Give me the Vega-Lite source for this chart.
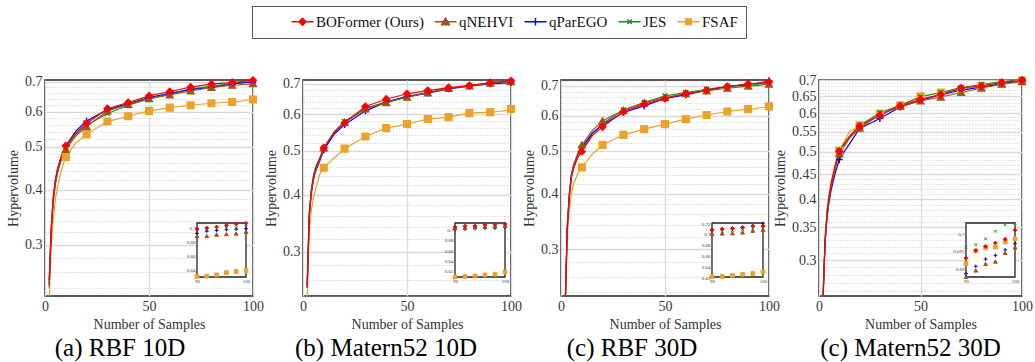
{
  "$schema": "https://vega.github.io/schema/vega-lite/v6.json",
  "background": "white",
  "padding": {"left": 5, "top": 5, "right": 5, "bottom": 5},
  "bounds": "flush",
  "spacing": 50,
  "config": {
    "font": "Liberation Serif",
    "view": {"stroke": "#222222", "strokeWidth": 1.5},
    "axis": {
      "labelFont": "Liberation Serif", "titleFont": "Liberation Serif",
      "labelFontSize": 14, "titleFontSize": 14, "titleFontWeight": "normal",
      "labelColor": "#3a3a3a", "titleColor": "#333333",
      "domain": false, "ticks": false
    },
    "title": {"font": "Liberation Serif", "fontSize": 25, "fontWeight": "normal", "color": "#000000", "orient": "bottom", "offset": 5}
  },
  "datasets": {
    "rbf10": [
      {"method":"FSAF","x":2,"hv":0.222},{"method":"FSAF","x":3,"hv":0.295},{"method":"FSAF","x":4,"hv":0.345},{"method":"FSAF","x":5,"hv":0.38},{"method":"FSAF","x":6,"hv":0.405},{"method":"FSAF","x":8,"hv":0.445},{"method":"FSAF","x":10,"hv":0.4736},{"method":"FSAF","x":15,"hv":0.511},{"method":"FSAF","x":20,"hv":0.533},{"method":"FSAF","x":30,"hv":0.5696},{"method":"FSAF","x":40,"hv":0.5856},{"method":"FSAF","x":50,"hv":0.602},{"method":"FSAF","x":60,"hv":0.6125},{"method":"FSAF","x":70,"hv":0.62},{"method":"FSAF","x":80,"hv":0.6265},{"method":"FSAF","x":90,"hv":0.6307},{"method":"FSAF","x":92,"hv":0.6312},{"method":"FSAF","x":94,"hv":0.633},{"method":"FSAF","x":96,"hv":0.6363},{"method":"FSAF","x":98,"hv":0.6377},{"method":"FSAF","x":100,"hv":0.639},
      {"method":"JES","x":2,"hv":0.243},{"method":"JES","x":3,"hv":0.322},{"method":"JES","x":4,"hv":0.378},{"method":"JES","x":5,"hv":0.412},{"method":"JES","x":6,"hv":0.437},{"method":"JES","x":8,"hv":0.472},{"method":"JES","x":10,"hv":0.4975},{"method":"JES","x":15,"hv":0.535},{"method":"JES","x":20,"hv":0.5585},{"method":"JES","x":30,"hv":0.594},{"method":"JES","x":40,"hv":0.62},{"method":"JES","x":50,"hv":0.6407},{"method":"JES","x":60,"hv":0.658},{"method":"JES","x":70,"hv":0.674},{"method":"JES","x":80,"hv":0.685},{"method":"JES","x":90,"hv":0.694},{"method":"JES","x":92,"hv":0.696},{"method":"JES","x":94,"hv":0.698},{"method":"JES","x":96,"hv":0.699},{"method":"JES","x":98,"hv":0.7},{"method":"JES","x":100,"hv":0.701},
      {"method":"qParEGO","x":2,"hv":0.245},{"method":"qParEGO","x":3,"hv":0.328},{"method":"qParEGO","x":4,"hv":0.385},{"method":"qParEGO","x":5,"hv":0.42},{"method":"qParEGO","x":6,"hv":0.445},{"method":"qParEGO","x":8,"hv":0.478},{"method":"qParEGO","x":10,"hv":0.502},{"method":"qParEGO","x":15,"hv":0.543},{"method":"qParEGO","x":20,"hv":0.571},{"method":"qParEGO","x":30,"hv":0.606},{"method":"qParEGO","x":40,"hv":0.6255},{"method":"qParEGO","x":50,"hv":0.6454},{"method":"qParEGO","x":60,"hv":0.66},{"method":"qParEGO","x":70,"hv":0.673},{"method":"qParEGO","x":80,"hv":0.68},{"method":"qParEGO","x":90,"hv":0.6916},{"method":"qParEGO","x":92,"hv":0.695},{"method":"qParEGO","x":94,"hv":0.6958},{"method":"qParEGO","x":96,"hv":0.697},{"method":"qParEGO","x":98,"hv":0.6977},{"method":"qParEGO","x":100,"hv":0.6986},
      {"method":"qNEHVI","x":2,"hv":0.24},{"method":"qNEHVI","x":3,"hv":0.32},{"method":"qNEHVI","x":4,"hv":0.378},{"method":"qNEHVI","x":5,"hv":0.412},{"method":"qNEHVI","x":6,"hv":0.437},{"method":"qNEHVI","x":8,"hv":0.47},{"method":"qNEHVI","x":10,"hv":0.493},{"method":"qNEHVI","x":15,"hv":0.53},{"method":"qNEHVI","x":20,"hv":0.555},{"method":"qNEHVI","x":30,"hv":0.602},{"method":"qNEHVI","x":40,"hv":0.623},{"method":"qNEHVI","x":50,"hv":0.642},{"method":"qNEHVI","x":60,"hv":0.6545},{"method":"qNEHVI","x":70,"hv":0.668},{"method":"qNEHVI","x":80,"hv":0.68},{"method":"qNEHVI","x":90,"hv":0.688},{"method":"qNEHVI","x":92,"hv":0.688},{"method":"qNEHVI","x":94,"hv":0.69},{"method":"qNEHVI","x":96,"hv":0.6907},{"method":"qNEHVI","x":98,"hv":0.6916},{"method":"qNEHVI","x":100,"hv":0.694},
      {"method":"BOFormer (Ours)","x":2,"hv":0.25},{"method":"BOFormer (Ours)","x":3,"hv":0.33},{"method":"BOFormer (Ours)","x":4,"hv":0.385},{"method":"BOFormer (Ours)","x":5,"hv":0.42},{"method":"BOFormer (Ours)","x":6,"hv":0.445},{"method":"BOFormer (Ours)","x":8,"hv":0.478},{"method":"BOFormer (Ours)","x":10,"hv":0.502},{"method":"BOFormer (Ours)","x":15,"hv":0.538},{"method":"BOFormer (Ours)","x":20,"hv":0.564},{"method":"BOFormer (Ours)","x":30,"hv":0.609},{"method":"BOFormer (Ours)","x":40,"hv":0.629},{"method":"BOFormer (Ours)","x":50,"hv":0.651},{"method":"BOFormer (Ours)","x":60,"hv":0.666},{"method":"BOFormer (Ours)","x":70,"hv":0.681},{"method":"BOFormer (Ours)","x":80,"hv":0.692},{"method":"BOFormer (Ours)","x":90,"hv":0.698},{"method":"BOFormer (Ours)","x":92,"hv":0.6995},{"method":"BOFormer (Ours)","x":94,"hv":0.701},{"method":"BOFormer (Ours)","x":96,"hv":0.703},{"method":"BOFormer (Ours)","x":98,"hv":0.705},{"method":"BOFormer (Ours)","x":100,"hv":0.706}
    ],
    "mat10": [
      {"method":"FSAF","x":2,"hv":0.235},{"method":"FSAF","x":3,"hv":0.33},{"method":"FSAF","x":4,"hv":0.37},{"method":"FSAF","x":5,"hv":0.394},{"method":"FSAF","x":6,"hv":0.41},{"method":"FSAF","x":8,"hv":0.443},{"method":"FSAF","x":10,"hv":0.4585},{"method":"FSAF","x":15,"hv":0.4818},{"method":"FSAF","x":20,"hv":0.505},{"method":"FSAF","x":30,"hv":0.537},{"method":"FSAF","x":40,"hv":0.56},{"method":"FSAF","x":50,"hv":0.5716},{"method":"FSAF","x":60,"hv":0.5863},{"method":"FSAF","x":70,"hv":0.592},{"method":"FSAF","x":80,"hv":0.604},{"method":"FSAF","x":90,"hv":0.607},{"method":"FSAF","x":92,"hv":0.608},{"method":"FSAF","x":94,"hv":0.609},{"method":"FSAF","x":96,"hv":0.611},{"method":"FSAF","x":98,"hv":0.6125},{"method":"FSAF","x":100,"hv":0.6167},
      {"method":"JES","x":2,"hv":0.255},{"method":"JES","x":3,"hv":0.366},{"method":"JES","x":4,"hv":0.412},{"method":"JES","x":5,"hv":0.44},{"method":"JES","x":6,"hv":0.459},{"method":"JES","x":8,"hv":0.482},{"method":"JES","x":10,"hv":0.505},{"method":"JES","x":15,"hv":0.55},{"method":"JES","x":20,"hv":0.579},{"method":"JES","x":30,"hv":0.6196},{"method":"JES","x":40,"hv":0.6386},{"method":"JES","x":50,"hv":0.6567},{"method":"JES","x":60,"hv":0.671},{"method":"JES","x":70,"hv":0.685},{"method":"JES","x":80,"hv":0.694},{"method":"JES","x":90,"hv":0.704},{"method":"JES","x":92,"hv":0.705},{"method":"JES","x":94,"hv":0.706},{"method":"JES","x":96,"hv":0.707},{"method":"JES","x":98,"hv":0.708},{"method":"JES","x":100,"hv":0.709},
      {"method":"qParEGO","x":2,"hv":0.25},{"method":"qParEGO","x":3,"hv":0.358},{"method":"qParEGO","x":4,"hv":0.402},{"method":"qParEGO","x":5,"hv":0.431},{"method":"qParEGO","x":6,"hv":0.45},{"method":"qParEGO","x":8,"hv":0.474},{"method":"qParEGO","x":10,"hv":0.502},{"method":"qParEGO","x":15,"hv":0.543},{"method":"qParEGO","x":20,"hv":0.57},{"method":"qParEGO","x":30,"hv":0.611},{"method":"qParEGO","x":40,"hv":0.6386},{"method":"qParEGO","x":50,"hv":0.6567},{"method":"qParEGO","x":60,"hv":0.668},{"method":"qParEGO","x":70,"hv":0.6826},{"method":"qParEGO","x":80,"hv":0.692},{"method":"qParEGO","x":90,"hv":0.7},{"method":"qParEGO","x":92,"hv":0.701},{"method":"qParEGO","x":94,"hv":0.702},{"method":"qParEGO","x":96,"hv":0.7026},{"method":"qParEGO","x":98,"hv":0.703},{"method":"qParEGO","x":100,"hv":0.7046},
      {"method":"qNEHVI","x":2,"hv":0.25},{"method":"qNEHVI","x":3,"hv":0.36},{"method":"qNEHVI","x":4,"hv":0.405},{"method":"qNEHVI","x":5,"hv":0.434},{"method":"qNEHVI","x":6,"hv":0.453},{"method":"qNEHVI","x":8,"hv":0.477},{"method":"qNEHVI","x":10,"hv":0.507},{"method":"qNEHVI","x":15,"hv":0.548},{"method":"qNEHVI","x":20,"hv":0.577},{"method":"qNEHVI","x":30,"hv":0.617},{"method":"qNEHVI","x":40,"hv":0.637},{"method":"qNEHVI","x":50,"hv":0.6545},{"method":"qNEHVI","x":60,"hv":0.669},{"method":"qNEHVI","x":70,"hv":0.684},{"method":"qNEHVI","x":80,"hv":0.693},{"method":"qNEHVI","x":90,"hv":0.703},{"method":"qNEHVI","x":92,"hv":0.704},{"method":"qNEHVI","x":94,"hv":0.705},{"method":"qNEHVI","x":96,"hv":0.706},{"method":"qNEHVI","x":98,"hv":0.707},{"method":"qNEHVI","x":100,"hv":0.708},
      {"method":"BOFormer (Ours)","x":2,"hv":0.2527},{"method":"BOFormer (Ours)","x":3,"hv":0.362},{"method":"BOFormer (Ours)","x":4,"hv":0.407},{"method":"BOFormer (Ours)","x":5,"hv":0.436},{"method":"BOFormer (Ours)","x":6,"hv":0.455},{"method":"BOFormer (Ours)","x":8,"hv":0.478},{"method":"BOFormer (Ours)","x":10,"hv":0.507},{"method":"BOFormer (Ours)","x":15,"hv":0.548},{"method":"BOFormer (Ours)","x":20,"hv":0.5745},{"method":"BOFormer (Ours)","x":30,"hv":0.6245},{"method":"BOFormer (Ours)","x":40,"hv":0.648},{"method":"BOFormer (Ours)","x":50,"hv":0.666},{"method":"BOFormer (Ours)","x":60,"hv":0.677},{"method":"BOFormer (Ours)","x":70,"hv":0.687},{"method":"BOFormer (Ours)","x":80,"hv":0.694},{"method":"BOFormer (Ours)","x":90,"hv":0.705},{"method":"BOFormer (Ours)","x":92,"hv":0.707},{"method":"BOFormer (Ours)","x":94,"hv":0.707},{"method":"BOFormer (Ours)","x":96,"hv":0.709},{"method":"BOFormer (Ours)","x":98,"hv":0.71},{"method":"BOFormer (Ours)","x":100,"hv":0.711}
    ],
    "rbf30": [
      {"method":"FSAF","x":2,"hv":0.21},{"method":"FSAF","x":3,"hv":0.32},{"method":"FSAF","x":4,"hv":0.37},{"method":"FSAF","x":5,"hv":0.4},{"method":"FSAF","x":6,"hv":0.42},{"method":"FSAF","x":8,"hv":0.443},{"method":"FSAF","x":10,"hv":0.4586},{"method":"FSAF","x":15,"hv":0.491},{"method":"FSAF","x":20,"hv":0.515},{"method":"FSAF","x":30,"hv":0.543},{"method":"FSAF","x":40,"hv":0.5593},{"method":"FSAF","x":50,"hv":0.574},{"method":"FSAF","x":60,"hv":0.589},{"method":"FSAF","x":70,"hv":0.602},{"method":"FSAF","x":80,"hv":0.613},{"method":"FSAF","x":90,"hv":0.6206},{"method":"FSAF","x":92,"hv":0.621},{"method":"FSAF","x":94,"hv":0.623},{"method":"FSAF","x":96,"hv":0.625},{"method":"FSAF","x":98,"hv":0.6265},{"method":"FSAF","x":100,"hv":0.6295},
      {"method":"JES","x":2,"hv":0.22},{"method":"JES","x":3,"hv":0.332},{"method":"JES","x":4,"hv":0.394},{"method":"JES","x":5,"hv":0.436},{"method":"JES","x":6,"hv":0.456},{"method":"JES","x":8,"hv":0.482},{"method":"JES","x":10,"hv":0.5017},{"method":"JES","x":15,"hv":0.545},{"method":"JES","x":20,"hv":0.576},{"method":"JES","x":30,"hv":0.618},{"method":"JES","x":40,"hv":0.642},{"method":"JES","x":50,"hv":0.6647},{"method":"JES","x":60,"hv":0.6765},{"method":"JES","x":70,"hv":0.688},{"method":"JES","x":80,"hv":0.6986},{"method":"JES","x":90,"hv":0.703},{"method":"JES","x":92,"hv":0.704},{"method":"JES","x":94,"hv":0.706},{"method":"JES","x":96,"hv":0.7075},{"method":"JES","x":98,"hv":0.709},{"method":"JES","x":100,"hv":0.71},
      {"method":"qParEGO","x":2,"hv":0.225},{"method":"qParEGO","x":3,"hv":0.34},{"method":"qParEGO","x":4,"hv":0.4},{"method":"qParEGO","x":5,"hv":0.442},{"method":"qParEGO","x":6,"hv":0.463},{"method":"qParEGO","x":8,"hv":0.49},{"method":"qParEGO","x":10,"hv":0.5088},{"method":"qParEGO","x":15,"hv":0.548},{"method":"qParEGO","x":20,"hv":0.572},{"method":"qParEGO","x":30,"hv":0.61},{"method":"qParEGO","x":40,"hv":0.631},{"method":"qParEGO","x":50,"hv":0.6558},{"method":"qParEGO","x":60,"hv":0.668},{"method":"qParEGO","x":70,"hv":0.6846},{"method":"qParEGO","x":80,"hv":0.698},{"method":"qParEGO","x":90,"hv":0.706},{"method":"qParEGO","x":92,"hv":0.709},{"method":"qParEGO","x":94,"hv":0.71},{"method":"qParEGO","x":96,"hv":0.711},{"method":"qParEGO","x":98,"hv":0.714},{"method":"qParEGO","x":100,"hv":0.7194},
      {"method":"qNEHVI","x":2,"hv":0.222},{"method":"qNEHVI","x":3,"hv":0.335},{"method":"qNEHVI","x":4,"hv":0.398},{"method":"qNEHVI","x":5,"hv":0.44},{"method":"qNEHVI","x":6,"hv":0.462},{"method":"qNEHVI","x":8,"hv":0.492},{"method":"qNEHVI","x":10,"hv":0.515},{"method":"qNEHVI","x":15,"hv":0.555},{"method":"qNEHVI","x":20,"hv":0.584},{"method":"qNEHVI","x":30,"hv":0.617},{"method":"qNEHVI","x":40,"hv":0.642},{"method":"qNEHVI","x":50,"hv":0.659},{"method":"qNEHVI","x":60,"hv":0.673},{"method":"qNEHVI","x":70,"hv":0.682},{"method":"qNEHVI","x":80,"hv":0.6917},{"method":"qNEHVI","x":90,"hv":0.6995},{"method":"qNEHVI","x":92,"hv":0.7006},{"method":"qNEHVI","x":94,"hv":0.701},{"method":"qNEHVI","x":96,"hv":0.7025},{"method":"qNEHVI","x":98,"hv":0.7055},{"method":"qNEHVI","x":100,"hv":0.707},
      {"method":"BOFormer (Ours)","x":2,"hv":0.22},{"method":"BOFormer (Ours)","x":3,"hv":0.33},{"method":"BOFormer (Ours)","x":4,"hv":0.393},{"method":"BOFormer (Ours)","x":5,"hv":0.435},{"method":"BOFormer (Ours)","x":6,"hv":0.455},{"method":"BOFormer (Ours)","x":8,"hv":0.483},{"method":"BOFormer (Ours)","x":10,"hv":0.498},{"method":"BOFormer (Ours)","x":15,"hv":0.54},{"method":"BOFormer (Ours)","x":20,"hv":0.566},{"method":"BOFormer (Ours)","x":30,"hv":0.612},{"method":"BOFormer (Ours)","x":40,"hv":0.6367},{"method":"BOFormer (Ours)","x":50,"hv":0.6558},{"method":"BOFormer (Ours)","x":60,"hv":0.673},{"method":"BOFormer (Ours)","x":70,"hv":0.6846},{"method":"BOFormer (Ours)","x":80,"hv":0.698},{"method":"BOFormer (Ours)","x":90,"hv":0.7075},{"method":"BOFormer (Ours)","x":92,"hv":0.709},{"method":"BOFormer (Ours)","x":94,"hv":0.71},{"method":"BOFormer (Ours)","x":96,"hv":0.712},{"method":"BOFormer (Ours)","x":98,"hv":0.7145},{"method":"BOFormer (Ours)","x":100,"hv":0.7145}
    ],
    "mat30": [
      {"method":"FSAF","x":2,"hv":0.252},{"method":"FSAF","x":3,"hv":0.334},{"method":"FSAF","x":4,"hv":0.38},{"method":"FSAF","x":5,"hv":0.41},{"method":"FSAF","x":6,"hv":0.435},{"method":"FSAF","x":8,"hv":0.473},{"method":"FSAF","x":10,"hv":0.503},{"method":"FSAF","x":15,"hv":0.549},{"method":"FSAF","x":20,"hv":0.566},{"method":"FSAF","x":30,"hv":0.598},{"method":"FSAF","x":40,"hv":0.622},{"method":"FSAF","x":50,"hv":0.649},{"method":"FSAF","x":60,"hv":0.661},{"method":"FSAF","x":70,"hv":0.671},{"method":"FSAF","x":80,"hv":0.6815},{"method":"FSAF","x":90,"hv":0.6913},{"method":"FSAF","x":92,"hv":0.695},{"method":"FSAF","x":94,"hv":0.6959},{"method":"FSAF","x":96,"hv":0.6961},{"method":"FSAF","x":98,"hv":0.6976},{"method":"FSAF","x":100,"hv":0.6985},
      {"method":"JES","x":2,"hv":0.252},{"method":"JES","x":3,"hv":0.33},{"method":"JES","x":4,"hv":0.375},{"method":"JES","x":5,"hv":0.405},{"method":"JES","x":6,"hv":0.428},{"method":"JES","x":8,"hv":0.466},{"method":"JES","x":10,"hv":0.503},{"method":"JES","x":15,"hv":0.538},{"method":"JES","x":20,"hv":0.566},{"method":"JES","x":30,"hv":0.601},{"method":"JES","x":40,"hv":0.622},{"method":"JES","x":50,"hv":0.647},{"method":"JES","x":60,"hv":0.661},{"method":"JES","x":70,"hv":0.676},{"method":"JES","x":80,"hv":0.686},{"method":"JES","x":90,"hv":0.6961},{"method":"JES","x":92,"hv":0.6968},{"method":"JES","x":94,"hv":0.6985},{"method":"JES","x":96,"hv":0.7007},{"method":"JES","x":98,"hv":0.7026},{"method":"JES","x":100,"hv":0.7034},
      {"method":"qParEGO","x":2,"hv":0.25},{"method":"qParEGO","x":3,"hv":0.325},{"method":"qParEGO","x":4,"hv":0.368},{"method":"qParEGO","x":5,"hv":0.396},{"method":"qParEGO","x":6,"hv":0.418},{"method":"qParEGO","x":8,"hv":0.452},{"method":"qParEGO","x":10,"hv":0.482},{"method":"qParEGO","x":15,"hv":0.519},{"method":"qParEGO","x":20,"hv":0.558},{"method":"qParEGO","x":30,"hv":0.5846},{"method":"qParEGO","x":40,"hv":0.6174},{"method":"qParEGO","x":50,"hv":0.637},{"method":"qParEGO","x":60,"hv":0.6545},{"method":"qParEGO","x":70,"hv":0.668},{"method":"qParEGO","x":80,"hv":0.678},{"method":"qParEGO","x":90,"hv":0.6884},{"method":"qParEGO","x":92,"hv":0.6905},{"method":"qParEGO","x":94,"hv":0.6926},{"method":"qParEGO","x":96,"hv":0.6937},{"method":"qParEGO","x":98,"hv":0.6953},{"method":"qParEGO","x":100,"hv":0.6971},
      {"method":"qNEHVI","x":2,"hv":0.25},{"method":"qNEHVI","x":3,"hv":0.328},{"method":"qNEHVI","x":4,"hv":0.372},{"method":"qNEHVI","x":5,"hv":0.402},{"method":"qNEHVI","x":6,"hv":0.425},{"method":"qNEHVI","x":8,"hv":0.462},{"method":"qNEHVI","x":10,"hv":0.4958},{"method":"qNEHVI","x":15,"hv":0.533},{"method":"qNEHVI","x":20,"hv":0.559},{"method":"qNEHVI","x":30,"hv":0.5957},{"method":"qNEHVI","x":40,"hv":0.62},{"method":"qNEHVI","x":50,"hv":0.635},{"method":"qNEHVI","x":60,"hv":0.647},{"method":"qNEHVI","x":70,"hv":0.661},{"method":"qNEHVI","x":80,"hv":0.675},{"method":"qNEHVI","x":90,"hv":0.6871},{"method":"qNEHVI","x":92,"hv":0.6893},{"method":"qNEHVI","x":94,"hv":0.6912},{"method":"qNEHVI","x":96,"hv":0.6919},{"method":"qNEHVI","x":98,"hv":0.6944},{"method":"qNEHVI","x":100,"hv":0.696},
      {"method":"BOFormer (Ours)","x":2,"hv":0.253},{"method":"BOFormer (Ours)","x":3,"hv":0.332},{"method":"BOFormer (Ours)","x":4,"hv":0.377},{"method":"BOFormer (Ours)","x":5,"hv":0.407},{"method":"BOFormer (Ours)","x":6,"hv":0.4305},{"method":"BOFormer (Ours)","x":8,"hv":0.469},{"method":"BOFormer (Ours)","x":10,"hv":0.501},{"method":"BOFormer (Ours)","x":15,"hv":0.536},{"method":"BOFormer (Ours)","x":20,"hv":0.5637},{"method":"BOFormer (Ours)","x":30,"hv":0.5936},{"method":"BOFormer (Ours)","x":40,"hv":0.62},{"method":"BOFormer (Ours)","x":50,"hv":0.64},{"method":"BOFormer (Ours)","x":60,"hv":0.6545},{"method":"BOFormer (Ours)","x":70,"hv":0.675},{"method":"BOFormer (Ours)","x":80,"hv":0.6815},{"method":"BOFormer (Ours)","x":90,"hv":0.6929},{"method":"BOFormer (Ours)","x":92,"hv":0.6951},{"method":"BOFormer (Ours)","x":94,"hv":0.6963},{"method":"BOFormer (Ours)","x":96,"hv":0.6973},{"method":"BOFormer (Ours)","x":98,"hv":0.6984},{"method":"BOFormer (Ours)","x":100,"hv":0.701}
    ]
  },
  "hconcat": [
    {
      "width": 208, "height": 216,
      "title": {"text": "(a) RBF 10D", "dx": -29},
      "data": {"name": "rbf10"},
      "layer": [
        {"layer": [
          {"mark": {"type": "line", "clip": true, "strokeWidth": 1.2},
           "encoding": {
             "x": {"field": "x", "type": "quantitative", "scale": {"domain": [0, 100], "nice": false}, "axis": {"values": [0, 50, 100], "title": "Number of Samples", "labelFlush": false, "gridColor": "#dcdcdc", "gridWidth": 1.3, "labelPadding": 3, "titlePadding": 4}},
             "y": {"field": "hv", "type": "quantitative", "scale": {"type": "log", "domain": [0.23, 0.707], "nice": false},
                   "axis": {"orient": "left", "title": "Hypervolume", "labelOverlap": false, "labelPadding": 3, "titlePadding": 4,
                            "values": [0.24,0.26,0.28,0.3,0.32,0.34,0.36,0.38,0.4,0.42,0.44,0.46,0.48,0.5,0.52,0.54,0.56,0.58,0.6,0.62,0.64,0.66,0.68,0.7],
                            "labelExpr": "abs(datum.value*10 - round(datum.value*10)) < 1e-6 ? format(datum.value, '.1f') : ''",
                            "gridDash": {"condition": {"test": "abs(datum.value*10 - round(datum.value*10)) < 1e-6", "value": []}, "value": [1, 2]},
                            "gridColor": {"condition": {"test": "abs(datum.value*10 - round(datum.value*10)) < 1e-6", "value": "#d9d9d9"}, "value": "#b8b8b8"},
                            "gridWidth": {"condition": {"test": "abs(datum.value*10 - round(datum.value*10)) < 1e-6", "value": 1.4}, "value": 0.7}}},
             "color": {"field": "method", "type": "nominal",
                       "scale": {"domain": ["BOFormer (Ours)", "qNEHVI", "qParEGO", "JES", "FSAF"], "range": ["#ff0000", "#9c5614", "#0000ff", "#1a8f1a", "#eba12a"]},
                       "legend": {"orient": "none", "legendX": 207, "legendY": -74, "direction": "horizontal", "columns": 5,
                                  "title": "\u2003", "titleOrient": "left", "titlePadding": 35, "titleFontSize": 15, "titleFont": "Liberation Serif",
                                  "labelExpr": "datum.label === 'FSAF' ? 'FSAF\u2003\u2003' : datum.label",
                                  "strokeColor": "#555555", "fillColor": "#ffffff", "padding": 8,
                                  "labelFont": "Liberation Serif", "labelFontSize": 15, "labelColor": "#111111",
                                  "symbolSize": 100, "labelOffset": 6, "columnPadding": 7, "symbolStrokeWidth": 1.4,
                                  "encode": {"symbols": {"update": {
                                    "shape": {"signal": "datum.value === 'BOFormer (Ours)' ? 'M-2.2,0H2.2M0,-0.7L0.7,0L0,0.7L-0.7,0Z' : datum.value === 'qNEHVI' ? 'M-2.2,0H2.2M0,-0.75L0.8,0.6L-0.8,0.6Z' : datum.value === 'qParEGO' ? 'M-2.2,0H2.2M0,-0.75V0.75' : datum.value === 'JES' ? 'M-2.2,0H2.2M-0.45,-0.45L0.45,0.45M-0.45,0.45L0.45,-0.45' : 'M-2.2,0H2.2M-0.55,-0.55H0.55V0.55H-0.55Z'"},
                                    "fill": {"signal": "scale('color', datum.value)"},
                                    "stroke": {"signal": "scale('color', datum.value)"},
                                    "strokeWidth": {"value": 1.4}}}}}}
           }},
          {"transform": [{"filter": "datum.x >= 10 && datum.x % 10 === 0"}],
           "mark": {"type": "point", "filled": true, "opacity": 1, "strokeWidth": 1.4},
           "encoding": {
             "x": {"field": "x", "type": "quantitative"},
             "y": {"field": "hv", "type": "quantitative"},
             "color": {"field": "method", "type": "nominal"},
             "stroke": {"field": "method", "type": "nominal", "scale": {"domain": ["FSAF", "JES", "qParEGO", "qNEHVI", "BOFormer (Ours)"], "range": ["#eba12a", "#1a8f1a", "#0000ff", "#9c5614", "#ff0000"]}, "legend": null},
             "shape": {"field": "method", "type": "nominal", "scale": {"domain": ["FSAF", "JES", "qParEGO", "qNEHVI", "BOFormer (Ours)"], "range": ["square", "M-0.75,-0.75L0.75,0.75M-0.75,0.75L0.75,-0.75", "M-1,0H1M0,-1V1", "triangle-up", "diamond"]}, "legend": null},
             "size": {"value": 45}
           }}
        ]},
        {"layer": [
          {"data": {"values": [{}]},
           "mark": {"type": "rect", "fill": "#ffffff", "stroke": "#222222", "strokeWidth": 1.3},
           "encoding": {
             "x": {"datum": 90, "type": "quantitative", "scale": {"domain": [90, 100], "range": [152, 201], "nice": false, "zero": false},
                   "axis": {"orient": "bottom", "offset": -19, "values": [90, 100], "title": null, "grid": false, "ticks": false, "labelFontSize": 5, "labelPadding": 1, "labelFlush": false, "zindex": 1}},
             "x2": {"datum": 100},
             "y": {"datum": 0.63, "type": "quantitative", "scale": {"domain": [0.63, 0.7065], "range": [197, 143], "nice": false, "zero": false, "clamp": true},
                   "axis": {"orient": "left", "offset": -152, "values": [0.64, 0.66, 0.68, 0.7], "format": "~g", "title": null, "grid": false, "ticks": false, "labelFontSize": 5, "labelPadding": 2, "zindex": 1}},
             "y2": {"datum": 0.7065}
           }},
          {"transform": [{"filter": "datum.x >= 90"}],
           "mark": {"type": "point", "filled": true, "opacity": 1, "strokeWidth": 1},
           "encoding": {
             "x": {"field": "x", "type": "quantitative"},
             "y": {"field": "hv", "type": "quantitative"},
             "color": {"field": "method", "type": "nominal"},
             "stroke": {"field": "method", "type": "nominal", "legend": null},
             "shape": {"field": "method", "type": "nominal", "legend": null},
             "size": {"value": 14}
           }}
        ]}
      ],
      "resolve": {"scale": {"x": "independent", "y": "independent"}}
    },
    {
      "width": 208, "height": 216,
      "title": {"text": "(b) Matern52 10D", "dx": -21},
      "data": {"name": "mat10"},
      "layer": [
        {"layer": [
          {"mark": {"type": "line", "clip": true, "strokeWidth": 1.2},
           "encoding": {
             "x": {"field": "x", "type": "quantitative", "scale": {"domain": [0, 100], "nice": false}, "axis": {"values": [0, 50, 100], "title": "Number of Samples", "labelFlush": false, "gridColor": "#dcdcdc", "gridWidth": 1.3, "labelPadding": 3, "titlePadding": 4}},
             "y": {"field": "hv", "type": "quantitative", "scale": {"type": "log", "domain": [0.24, 0.714], "nice": false},
                   "axis": {"orient": "left", "title": "Hypervolume", "labelOverlap": false, "labelPadding": 3, "titlePadding": 4,
                            "values": [0.24,0.26,0.28,0.3,0.32,0.34,0.36,0.38,0.4,0.42,0.44,0.46,0.48,0.5,0.52,0.54,0.56,0.58,0.6,0.62,0.64,0.66,0.68,0.7],
                            "labelExpr": "abs(datum.value*10 - round(datum.value*10)) < 1e-6 ? format(datum.value, '.1f') : ''",
                            "gridDash": {"condition": {"test": "abs(datum.value*10 - round(datum.value*10)) < 1e-6", "value": []}, "value": [1, 2]},
                            "gridColor": {"condition": {"test": "abs(datum.value*10 - round(datum.value*10)) < 1e-6", "value": "#d9d9d9"}, "value": "#b8b8b8"},
                            "gridWidth": {"condition": {"test": "abs(datum.value*10 - round(datum.value*10)) < 1e-6", "value": 1.4}, "value": 0.7}}},
             "color": {"field": "method", "type": "nominal", "scale": {"domain": ["BOFormer (Ours)", "qNEHVI", "qParEGO", "JES", "FSAF"], "range": ["#ff0000", "#9c5614", "#0000ff", "#1a8f1a", "#eba12a"]}}
           }},
          {"transform": [{"filter": "datum.x >= 10 && datum.x % 10 === 0"}],
           "mark": {"type": "point", "filled": true, "opacity": 1, "strokeWidth": 1.4},
           "encoding": {
             "x": {"field": "x", "type": "quantitative"},
             "y": {"field": "hv", "type": "quantitative"},
             "color": {"field": "method", "type": "nominal"},
             "stroke": {"field": "method", "type": "nominal", "scale": {"domain": ["FSAF", "JES", "qParEGO", "qNEHVI", "BOFormer (Ours)"], "range": ["#eba12a", "#1a8f1a", "#0000ff", "#9c5614", "#ff0000"]}, "legend": null},
             "shape": {"field": "method", "type": "nominal", "scale": {"domain": ["FSAF", "JES", "qParEGO", "qNEHVI", "BOFormer (Ours)"], "range": ["square", "M-0.75,-0.75L0.75,0.75M-0.75,0.75L0.75,-0.75", "M-1,0H1M0,-1V1", "triangle-up", "diamond"]}, "legend": null},
             "size": {"value": 45}
           }}
        ]},
        {"layer": [
          {"data": {"values": [{}]},
           "mark": {"type": "rect", "fill": "#ffffff", "stroke": "#222222", "strokeWidth": 1.3},
           "encoding": {
             "x": {"datum": 90, "type": "quantitative", "scale": {"domain": [90, 100], "range": [152, 202], "nice": false, "zero": false},
                   "axis": {"orient": "bottom", "offset": -19, "values": [90, 100], "title": null, "grid": false, "ticks": false, "labelFontSize": 5, "labelPadding": 1, "labelFlush": false, "zindex": 1}},
             "x2": {"datum": 100},
             "y": {"datum": 0.607, "type": "quantitative", "scale": {"domain": [0.607, 0.713], "range": [197, 143], "nice": false, "zero": false, "clamp": true},
                   "axis": {"orient": "left", "offset": -152, "values": [0.62, 0.64, 0.66, 0.68, 0.7], "format": "~g", "title": null, "grid": false, "ticks": false, "labelFontSize": 5, "labelPadding": 2, "zindex": 1}},
             "y2": {"datum": 0.713}
           }},
          {"transform": [{"filter": "datum.x >= 90"}],
           "mark": {"type": "point", "filled": true, "opacity": 1, "strokeWidth": 1},
           "encoding": {
             "x": {"field": "x", "type": "quantitative"},
             "y": {"field": "hv", "type": "quantitative"},
             "color": {"field": "method", "type": "nominal"},
             "stroke": {"field": "method", "type": "nominal", "legend": null},
             "shape": {"field": "method", "type": "nominal", "legend": null},
             "size": {"value": 14}
           }}
        ]}
      ],
      "resolve": {"scale": {"x": "independent", "y": "independent"}}
    },
    {
      "width": 208, "height": 216,
      "title": {"text": "(c) RBF 30D", "dx": -33},
      "data": {"name": "rbf30"},
      "layer": [
        {"layer": [
          {"mark": {"type": "line", "clip": true, "strokeWidth": 1.2},
           "encoding": {
             "x": {"field": "x", "type": "quantitative", "scale": {"domain": [0, 100], "nice": false}, "axis": {"values": [0, 50, 100], "title": "Number of Samples", "labelFlush": false, "gridColor": "#dcdcdc", "gridWidth": 1.3, "labelPadding": 3, "titlePadding": 4}},
             "y": {"field": "hv", "type": "quantitative", "scale": {"type": "log", "domain": [0.235, 0.722], "nice": false},
                   "axis": {"orient": "left", "title": "Hypervolume", "labelOverlap": false, "labelPadding": 3, "titlePadding": 4,
                            "values": [0.24,0.26,0.28,0.3,0.32,0.34,0.36,0.38,0.4,0.42,0.44,0.46,0.48,0.5,0.52,0.54,0.56,0.58,0.6,0.62,0.64,0.66,0.68,0.7,0.72],
                            "labelExpr": "abs(datum.value*10 - round(datum.value*10)) < 1e-6 ? format(datum.value, '.1f') : ''",
                            "gridDash": {"condition": {"test": "abs(datum.value*10 - round(datum.value*10)) < 1e-6", "value": []}, "value": [1, 2]},
                            "gridColor": {"condition": {"test": "abs(datum.value*10 - round(datum.value*10)) < 1e-6", "value": "#d9d9d9"}, "value": "#b8b8b8"},
                            "gridWidth": {"condition": {"test": "abs(datum.value*10 - round(datum.value*10)) < 1e-6", "value": 1.4}, "value": 0.7}}},
             "color": {"field": "method", "type": "nominal", "scale": {"domain": ["BOFormer (Ours)", "qNEHVI", "qParEGO", "JES", "FSAF"], "range": ["#ff0000", "#9c5614", "#0000ff", "#1a8f1a", "#eba12a"]}}
           }},
          {"transform": [{"filter": "datum.x >= 10 && datum.x % 10 === 0"}],
           "mark": {"type": "point", "filled": true, "opacity": 1, "strokeWidth": 1.4},
           "encoding": {
             "x": {"field": "x", "type": "quantitative"},
             "y": {"field": "hv", "type": "quantitative"},
             "color": {"field": "method", "type": "nominal"},
             "stroke": {"field": "method", "type": "nominal", "scale": {"domain": ["FSAF", "JES", "qParEGO", "qNEHVI", "BOFormer (Ours)"], "range": ["#eba12a", "#1a8f1a", "#0000ff", "#9c5614", "#ff0000"]}, "legend": null},
             "shape": {"field": "method", "type": "nominal", "scale": {"domain": ["FSAF", "JES", "qParEGO", "qNEHVI", "BOFormer (Ours)"], "range": ["square", "M-0.75,-0.75L0.75,0.75M-0.75,0.75L0.75,-0.75", "M-1,0H1M0,-1V1", "triangle-up", "diamond"]}, "legend": null},
             "size": {"value": 45}
           }}
        ]},
        {"layer": [
          {"data": {"values": [{}]},
           "mark": {"type": "rect", "fill": "#ffffff", "stroke": "#222222", "strokeWidth": 1.3},
           "encoding": {
             "x": {"datum": 90, "type": "quantitative", "scale": {"domain": [90, 100], "range": [151, 202], "nice": false, "zero": false},
                   "axis": {"orient": "bottom", "offset": -19, "values": [90, 100], "title": null, "grid": false, "ticks": false, "labelFontSize": 5, "labelPadding": 1, "labelFlush": false, "zindex": 1}},
             "x2": {"datum": 100},
             "y": {"datum": 0.62, "type": "quantitative", "scale": {"domain": [0.62, 0.72], "range": [197, 143], "nice": false, "zero": false, "clamp": true},
                   "axis": {"orient": "left", "offset": -151, "values": [0.62, 0.64, 0.66, 0.68, 0.7, 0.72], "format": "~g", "title": null, "grid": false, "ticks": false, "labelFontSize": 5, "labelPadding": 2, "zindex": 1}},
             "y2": {"datum": 0.72}
           }},
          {"transform": [{"filter": "datum.x >= 90"}],
           "mark": {"type": "point", "filled": true, "opacity": 1, "strokeWidth": 1},
           "encoding": {
             "x": {"field": "x", "type": "quantitative"},
             "y": {"field": "hv", "type": "quantitative"},
             "color": {"field": "method", "type": "nominal"},
             "stroke": {"field": "method", "type": "nominal", "legend": null},
             "shape": {"field": "method", "type": "nominal", "legend": null},
             "size": {"value": 14}
           }}
        ]}
      ],
      "resolve": {"scale": {"x": "independent", "y": "independent"}}
    },
    {
      "width": 203, "height": 216,
      "title": {"text": "(c) Matern52 30D", "dx": -10},
      "data": {"name": "mat30"},
      "layer": [
        {"layer": [
          {"mark": {"type": "line", "clip": true, "strokeWidth": 1.2},
           "encoding": {
             "x": {"field": "x", "type": "quantitative", "scale": {"domain": [0, 100], "nice": false}, "axis": {"values": [0, 50, 100], "title": "Number of Samples", "labelFlush": false, "gridColor": "#dcdcdc", "gridWidth": 1.3, "labelPadding": 3, "titlePadding": 4}},
             "y": {"field": "hv", "type": "quantitative", "scale": {"type": "log", "domain": [0.2535, 0.701], "nice": false},
                   "axis": {"orient": "left", "title": "Hypervolume", "labelOverlap": false, "labelPadding": 3, "titlePadding": 4,
                            "values": [0.26,0.27,0.28,0.29,0.3,0.31,0.32,0.33,0.34,0.35,0.36,0.37,0.38,0.39,0.4,0.41,0.42,0.43,0.44,0.45,0.46,0.47,0.48,0.49,0.5,0.51,0.52,0.53,0.54,0.55,0.56,0.57,0.58,0.59,0.6,0.61,0.62,0.63,0.64,0.65,0.66,0.67,0.68,0.69,0.7],
                            "labelExpr": "abs(datum.value*20 - round(datum.value*20)) < 1e-6 ? format(datum.value, '~g') : ''",
                            "gridDash": {"condition": {"test": "abs(datum.value*20 - round(datum.value*20)) < 1e-6", "value": []}, "value": [1, 2]},
                            "gridColor": {"condition": {"test": "abs(datum.value*20 - round(datum.value*20)) < 1e-6", "value": "#d9d9d9"}, "value": "#b8b8b8"},
                            "gridWidth": {"condition": {"test": "abs(datum.value*20 - round(datum.value*20)) < 1e-6", "value": 1.4}, "value": 0.7}}},
             "color": {"field": "method", "type": "nominal", "scale": {"domain": ["BOFormer (Ours)", "qNEHVI", "qParEGO", "JES", "FSAF"], "range": ["#ff0000", "#9c5614", "#0000ff", "#1a8f1a", "#eba12a"]}}
           }},
          {"transform": [{"filter": "datum.x >= 10 && datum.x % 10 === 0"}],
           "mark": {"type": "point", "filled": true, "opacity": 1, "strokeWidth": 1.4},
           "encoding": {
             "x": {"field": "x", "type": "quantitative"},
             "y": {"field": "hv", "type": "quantitative"},
             "color": {"field": "method", "type": "nominal"},
             "stroke": {"field": "method", "type": "nominal", "scale": {"domain": ["FSAF", "JES", "qParEGO", "qNEHVI", "BOFormer (Ours)"], "range": ["#eba12a", "#1a8f1a", "#0000ff", "#9c5614", "#ff0000"]}, "legend": null},
             "shape": {"field": "method", "type": "nominal", "scale": {"domain": ["FSAF", "JES", "qParEGO", "qNEHVI", "BOFormer (Ours)"], "range": ["square", "M-0.75,-0.75L0.75,0.75M-0.75,0.75L0.75,-0.75", "M-1,0H1M0,-1V1", "triangle-up", "diamond"]}, "legend": null},
             "size": {"value": 45}
           }}
        ]},
        {"layer": [
          {"data": {"values": [{}]},
           "mark": {"type": "rect", "fill": "#ffffff", "stroke": "#222222", "strokeWidth": 1.3},
           "encoding": {
             "x": {"datum": 90, "type": "quantitative", "scale": {"domain": [90, 100], "range": [147, 196], "nice": false, "zero": false},
                   "axis": {"orient": "bottom", "offset": -19, "values": [90, 100], "title": null, "grid": false, "ticks": false, "labelFontSize": 5, "labelPadding": 1, "labelFlush": false, "zindex": 1}},
             "x2": {"datum": 100},
             "y": {"datum": 0.6874, "type": "quantitative", "scale": {"domain": [0.6874, 0.7031], "range": [197, 143], "nice": false, "zero": false, "clamp": true},
                   "axis": {"orient": "left", "offset": -147, "values": [0.69, 0.695, 0.7], "format": "~g", "title": null, "grid": false, "ticks": false, "labelFontSize": 5, "labelPadding": 2, "zindex": 1}},
             "y2": {"datum": 0.7031}
           }},
          {"transform": [{"filter": "datum.x >= 90"}],
           "mark": {"type": "point", "filled": true, "opacity": 1, "strokeWidth": 1},
           "encoding": {
             "x": {"field": "x", "type": "quantitative"},
             "y": {"field": "hv", "type": "quantitative"},
             "color": {"field": "method", "type": "nominal"},
             "stroke": {"field": "method", "type": "nominal", "legend": null},
             "shape": {"field": "method", "type": "nominal", "legend": null},
             "size": {"value": 14}
           }}
        ]}
      ],
      "resolve": {"scale": {"x": "independent", "y": "independent"}}
    }
  ]
}
